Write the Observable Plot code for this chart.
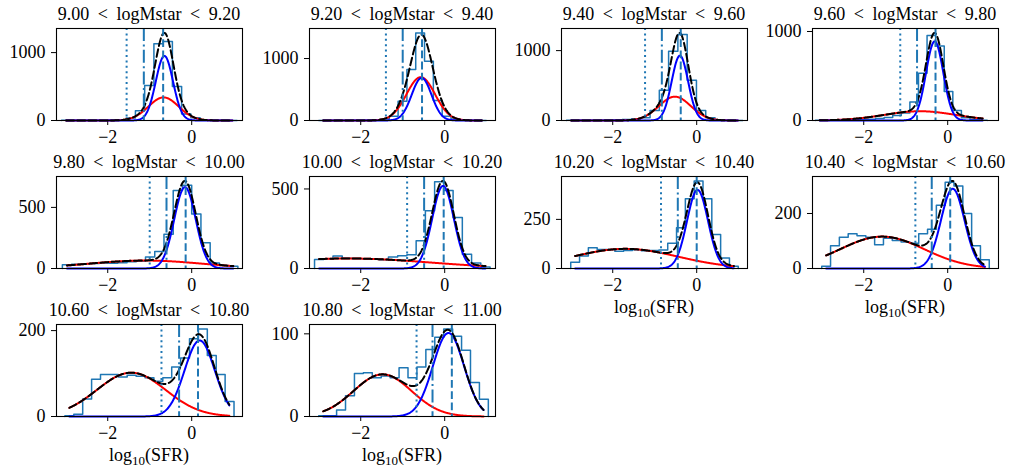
<!DOCTYPE html>
<html><head><meta charset="utf-8">
<script src="https://cdn.jsdelivr.net/npm/d3@7"></script>
<script src="https://cdn.jsdelivr.net/npm/@observablehq/plot@0.6"></script>
<style>
html,body{margin:0;padding:0;background:#fff;}
#chart{position:relative;width:1014px;height:471px;overflow:hidden;background:#fff;}
#chart svg{position:absolute;overflow:visible;max-width:none;}
</style></head><body><div id="chart"></div>
<script>
// ---- data ----
const massLo = [9.0, 9.2, 9.4, 9.6, 9.8, 10.0, 10.2, 10.4, 10.6, 10.8];
const massHi = [9.2, 9.4, 9.6, 9.8, 10.0, 10.2, 10.4, 10.6, 10.8, 11.0];

// histogram: first bin edge, bin width, counts per bin
const histLo    = [-3.1, -3.0, -3.1, -3.15, -3.08, -3.1, -3.0, -3.0, -3.02, -3.0];
const histWidth = [0.22, 0.21, 0.221, 0.2045, 0.22, 0.22, 0.21, 0.21, 0.212, 0.2126];
const counts1  = [2, 2, 3, 4, 5, 7, 12, 35, 145, 515, 1130, 1165, 500, 97, 40, 12, 4, 2, 1];
const counts2  = [2, 2, 3, 4, 6, 8, 12, 25, 70, 312, 823, 1414, 957, 323, 70, 25, 8, 3, 1];
const counts3  = [2, 2, 3, 4, 6, 10, 15, 25, 40, 144, 433, 990, 1231, 577, 144, 40, 12, 4, 1];
const counts4  = [2, 3, 4, 5, 7, 10, 15, 22, 35, 55, 85, 207, 530, 955, 837, 326, 111, 30, 10, 4];
const counts5  = [30, 35, 38, 40, 45, 42, 48, 55, 60, 94, 139, 281, 639, 682, 447, 211, 45, 25, 18];
const counts6  = [56, 62, 78, 65, 63, 62, 58, 55, 72, 80, 87, 175, 363, 546, 490, 321, 90, 35, 10];
const counts7  = [32, 63, 105, 97, 97, 88, 92, 95, 90, 92, 94, 128, 207, 355, 446, 355, 173, 54, 12];
const counts8  = [8, 83, 114, 126, 119, 114, 86, 110, 102, 96, 92, 126, 143, 230, 314, 300, 200, 83, 32];
const counts9  = [2, 5, 41, 87, 98, 98, 92, 96, 94, 90, 82, 90, 115, 136, 181, 204, 142, 98, 35];
const counts10 = [1, 1, 8, 25, 52, 53, 47, 49, 47, 59, 47, 60, 81, 96, 106, 97, 80, 41, 21];
const histCounts = [counts1, counts2, counts3, counts4, counts5, counts6, counts7, counts8, counts9, counts10];

// fitted gaussian components (amplitude, mean, sigma)
const redAmp    = [340, 699, 341, 104, 65, 63, 100, 116, 102, 51];
const redMu     = [-0.67, -0.57, -0.52, -0.66, -1.1, -2.3, -1.7, -1.56, -1.44, -1.48];
const redSigma  = [0.36, 0.34, 0.38, 0.85, 1.35, 1.93, 1.25, 1.0, 0.82, 0.69];
const blueAmp   = [951, 688, 928, 889, 666, 519, 400, 290, 177, 101];
const blueMu    = [-0.65, -0.55, -0.40, -0.31, -0.16, -0.04, 0.02, 0.12, 0.19, 0.09];
const blueSigma = [0.205, 0.235, 0.195, 0.205, 0.255, 0.257, 0.25, 0.28, 0.36, 0.37];

// vertical reference lines
const dottedX  = [-1.55, -1.40, -1.23, -1.13, -1.00, -0.895, -0.85, -0.77, -0.72, -0.67];
const dashDotX = [-1.14, -1.00, -0.83, -0.73, -0.60, -0.49, -0.45, -0.38, -0.30, -0.29];
const dashedX  = [-0.68, -0.54, -0.38, -0.29, -0.144, -0.024, 0.0, 0.06, 0.15, 0.17];

const yTickStep = [1000, 1000, 1000, 1000, 500, 500, 250, 200, 200, 100];
const xTicks = [-2, 0];
const xDomain = [-3.22, 1.21];

// ---- layout ----
const FONT = "'Liberation Serif', 'DejaVu Serif', serif";
const colLeft = [56, 309, 560.5, 812];
const rowTop = [27.5, 175.5, 323.5];
const frameW = 186, frameH = 92;
const mL = 60, mR = 20, mT = 40, mB = 60;
const fmt = d => d < 0 ? "\u2212" + (-d) : String(d);
const gauss = (x, a, m, s) => a * Math.exp(-((x - m) ** 2) / (2 * s * s));

const chart = document.getElementById("chart");

for (let i = 0; i < 10; i++) {
  const col = i % 4, row = Math.floor(i / 4);
  const lo = histLo[i], w = histWidth[i], cs = histCounts[i];
  const n = cs.length;
  // step outline of histogram
  const hist = [{x: lo, y: 0}];
  cs.forEach((c, k) => { hist.push({x: lo + k * w, y: c}); hist.push({x: lo + (k + 1) * w, y: c}); });
  hist.push({x: lo + n * w, y: 0});
  // model curves, evaluated over bin centres
  const xs = d3.range(lo + w / 2, lo + (n - 0.5) * w + 1e-9, 0.01);
  const curve = xs.map(x => {
    const r = gauss(x, redAmp[i], redMu[i], redSigma[i]);
    const b = gauss(x, blueAmp[i], blueMu[i], blueSigma[i]);
    return {x, red: r, blue: b, sum: r + b};
  });
  const yMax = 1.05 * Math.max(d3.max(cs), d3.max(curve, d => d.sum));

  const svg = Plot.plot({
    width: frameW + mL + mR, height: frameH + mT + mB,
    marginLeft: mL, marginRight: mR, marginTop: mT, marginBottom: mB,
    style: {fontFamily: FONT, fontSize: "18px", color: "black", background: "transparent", overflow: "visible"},
    x: {domain: xDomain, ticks: xTicks, tickSize: 5, tickPadding: 5, tickFormat: fmt, label: null},
    y: {domain: [0, yMax], ticks: [0, yTickStep[i]], tickSize: 5, tickPadding: 6, tickFormat: fmt, label: null},
    marks: [
      Plot.line(hist, {x: "x", y: "y", stroke: "#1f77b4", strokeWidth: 1.5}),
      Plot.line(curve, {x: "x", y: "red", stroke: "red", strokeWidth: 2}),
      Plot.line(curve, {x: "x", y: "blue", stroke: "blue", strokeWidth: 2}),
      Plot.line(curve, {x: "x", y: "sum", stroke: "black", strokeWidth: 2, strokeDasharray: "7.8,3.4"}),
      Plot.ruleX([dottedX[i]], {stroke: "#1f77b4", strokeWidth: 2, strokeDasharray: "2,3.4"}),
      Plot.ruleX([dashDotX[i]], {stroke: "#1f77b4", strokeWidth: 2, strokeDasharray: "13,3.4,2,3.4"}),
      Plot.ruleX([dashedX[i]], {stroke: "#1f77b4", strokeWidth: 2, strokeDasharray: "7.8,3.4"}),
      Plot.frame({stroke: "black", strokeWidth: 1.1})
    ]
  });
  svg.style.left = (colLeft[col] - mL) + "px";
  svg.style.top = (rowTop[row] - mT) + "px";
  const s = d3.select(svg);
  s.append("text")
    .attr("x", mL + frameW / 2).attr("y", mT - 8)
    .attr("text-anchor", "middle").attr("font-family", FONT).attr("font-size", 18)
    .attr("word-spacing", 4).attr("fill", "black")
    .text(`${massLo[i].toFixed(2)} < logMstar < ${massHi[i].toFixed(2)}`);
  if (i >= 6) {
    const t = s.append("text")
      .attr("x", mL + frameW / 2).attr("y", mT + frameH + 45)
      .attr("text-anchor", "middle").attr("font-family", FONT).attr("font-size", 18).attr("fill", "black");
    t.append("tspan").text("log");
    t.append("tspan").attr("font-size", 13).attr("dy", 4).text("10");
    t.append("tspan").attr("dy", -4).text("(SFR)");
  }
  chart.appendChild(svg);
}
</script></body></html>
